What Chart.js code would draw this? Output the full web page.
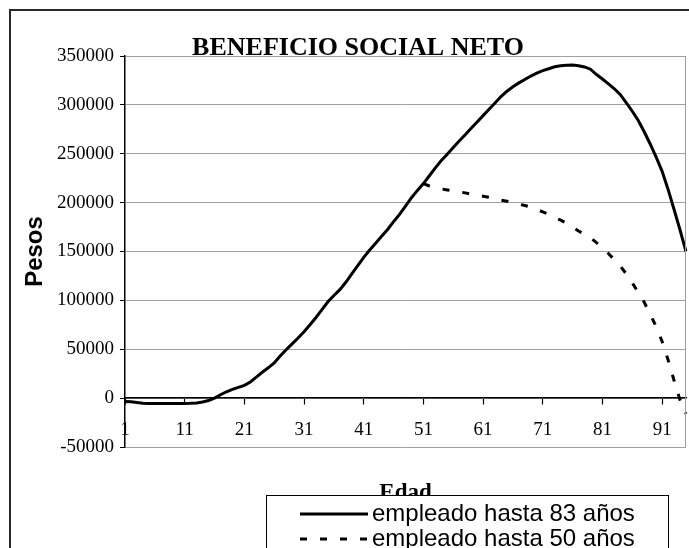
<!DOCTYPE html>
<html>
<head>
<meta charset="utf-8">
<script src="https://cdn.jsdelivr.net/npm/chart.js@4"></script>
<style>
  html, body { margin: 0; padding: 0; background: #ffffff; }
  #wrap { width: 689px; height: 548px; position: relative; overflow: hidden; }
</style>
</head>
<body>
<div id="wrap"><canvas id="chart" width="689" height="548"></canvas></div>
<script>
// Edad (años)
const ages = [
  1, 2, 3, 4, 5, 6, 7, 8, 9, 10, 11, 12, 13, 14, 15, 16, 17, 18, 19, 20,
  21, 22, 23, 24, 25, 26, 27, 28, 29, 30, 31, 32, 33, 34, 35, 36, 37, 38, 39, 40,
  41, 42, 43, 44, 45, 46, 47, 48, 49, 50, 51, 52, 53, 54, 55, 56, 57, 58, 59, 60,
  61, 62, 63, 64, 65, 66, 67, 68, 69, 70, 71, 72, 73, 74, 75, 76, 77, 78, 79, 80,
  81, 82, 83, 84, 85, 86, 87, 88, 89, 90, 91, 92, 93, 94, 95
];

// Beneficio social neto (pesos), empleado hasta 83 años
const empleado83 = [
  -3500, -3800, -4500, -5200, -5500, -5600, -5600, -5600, -5600, -5500,
  -5400, -5300, -5000, -4000, -2500, 0, 3500, 6500, 9000, 11000,
  13000, 16500, 21500, 26500, 31000, 36000, 43000, 49500, 55500, 61500,
  68000, 75000, 82500, 90500, 98500, 105000, 111000, 118500, 127000, 135500,
  144000, 151500, 158500, 165500, 172500, 180500, 188000, 196500, 205000, 212500,
  219500, 227500, 235500, 243000, 249500, 256500, 263000, 269500, 276000, 282500,
  289000, 295500, 302000, 308500, 314000, 318500, 322500, 326000, 329500, 332500,
  335000, 337000, 339000, 340000, 340500, 340800, 340000, 338800, 336500, 331000,
  326500, 321500, 316500, 310500, 302000, 293500, 284000, 272500, 260000, 246500,
  232000, 213500, 193000, 172000, 150000
];

// Beneficio social neto (pesos), empleado hasta 50 años (se separa desde los 51)
const empleado50 = [
  null, null, null, null, null, null, null, null, null, null,
  null, null, null, null, null, null, null, null, null, null,
  null, null, null, null, null, null, null, null, null, null,
  null, null, null, null, null, null, null, null, null, null,
  null, null, null, null, null, null, null, null, null, null,
  219500, 217000, 215500, 214000, 213000, 212000, 211000, 210000, 208500, 207500,
  206500, 205500, 204000, 202500, 201500, 200000, 198500, 197000, 195500, 193000,
  190500, 188000, 185000, 182000, 179000, 175000, 171000, 167500, 164000, 159000,
  154000, 148000, 141500, 135000, 127000, 118000, 108000, 98000, 86000, 73000,
  58000, 39000, 18000, -2000, -16000
];

const yTicks = [-50000, 0, 50000, 100000, 150000, 200000, 250000, 300000, 350000];
const xLabelEvery = 10;

const seriesNames = ['empleado hasta 83 años', 'empleado hasta 50 años'];
const chartTitle = 'BENEFICIO SOCIAL NETO';
const xTitle = 'Edad';
const yTitle = 'Pesos';

const SERIF = '"Liberation Serif", "Times New Roman", serif';
const SANS = '"Liberation Sans", Arial, sans-serif';
const DASH = [7, 13];

// Title, axis titles, plot frame and the legend box are painted on the canvas
const decorations = {
  id: 'decorations',
  beforeDraw(chart) {
    const ctx = chart.ctx;
    ctx.save();
    ctx.fillStyle = '#ffffff';
    ctx.fillRect(0, 0, chart.width, chart.height);
    ctx.restore();
  },
  afterDraw(chart) {
    const ctx = chart.ctx;
    const a = chart.chartArea;
    ctx.save();

    // right edge of the plot frame
    ctx.strokeStyle = '#9c9c9c';
    ctx.lineWidth = 1;
    ctx.beginPath();
    ctx.moveTo(a.right - 0.5, a.top);
    ctx.lineTo(a.right - 0.5, a.bottom);
    ctx.stroke();

    // outer chart frame
    ctx.strokeStyle = '#2a2a2a';
    ctx.lineWidth = 2;
    ctx.strokeRect(10, 10, 720, 600);

    // title
    ctx.fillStyle = '#000000';
    ctx.font = 'bold 26px ' + SERIF;
    ctx.textAlign = 'center';
    ctx.textBaseline = 'alphabetic';
    ctx.fillText(chartTitle, 358, 55);

    // y axis title, centred on the plot height
    ctx.save();
    ctx.translate(35, (a.top + a.bottom) / 2);
    ctx.rotate(-Math.PI / 2);
    ctx.font = 'bold 24px ' + SANS;
    ctx.textAlign = 'center';
    ctx.textBaseline = 'middle';
    ctx.fillText(yTitle, 0, 0);
    ctx.restore();

    // x axis title, centred on the plot width
    ctx.font = 'bold 23px ' + SERIF;
    ctx.textAlign = 'center';
    ctx.textBaseline = 'alphabetic';
    ctx.fillText(xTitle, (a.left + a.right) / 2, 499);

    // legend box
    const lx = 266, ly = 495, lw = 402, lh = 80;
    ctx.fillStyle = '#ffffff';
    ctx.fillRect(lx, ly, lw, lh);
    ctx.strokeStyle = '#000000';
    ctx.lineWidth = 1;
    ctx.strokeRect(lx + 0.5, ly + 0.5, lw, lh);

    const rows = [514, 539];
    chart.data.datasets.forEach((ds, i) => {
      const y = rows[i];
      ctx.strokeStyle = ds.borderColor;
      ctx.lineWidth = ds.borderWidth;
      ctx.setLineDash(ds.borderDash || []);
      ctx.beginPath();
      ctx.moveTo(300, y);
      ctx.lineTo(368, y);
      ctx.stroke();
      ctx.setLineDash([]);
      ctx.fillStyle = '#000000';
      ctx.font = '24px ' + SANS;
      ctx.textAlign = 'left';
      ctx.textBaseline = 'middle';
      ctx.fillText(ds.label, 372, y);
    });

    ctx.restore();
  }
};

new Chart(document.getElementById('chart'), {
  type: 'line',
  data: {
    labels: ages,
    datasets: [
      {
        label: seriesNames[0],
        data: empleado83,
        borderColor: '#000000',
        borderWidth: 3,
        pointRadius: 0,
        tension: 0,
        fill: false
      },
      {
        label: seriesNames[1],
        data: empleado50,
        borderColor: '#000000',
        borderWidth: 3,
        borderDash: DASH,
        pointRadius: 0,
        tension: 0,
        fill: false,
        spanGaps: false
      }
    ]
  },
  options: {
    responsive: false,
    animation: false,
    devicePixelRatio: 1,
    layout: { padding: { left: 0, top: 56, right: 3, bottom: 101 } },
    plugins: {
      legend: { display: false },
      tooltip: { enabled: false },
      title: { display: false }
    },
    scales: {
      x: {
        type: 'category',
        position: { y: 0 },
        offset: false,
        afterFit: (scale) => { scale.paddingLeft = 0; scale.paddingRight = 0; },
        border: { display: true, color: '#000000', width: 1.5 },
        grid: {
          drawOnChartArea: false,
          drawTicks: true,
          tickLength: 6,
          tickColor: (c) => (c.index % xLabelEvery === 0 ? '#000000' : 'rgba(0,0,0,0)'),
          tickWidth: 1.2
        },
        ticks: {
          autoSkip: false,
          maxRotation: 0,
          minRotation: 0,
          padding: 14,
          color: '#000000',
          font: { family: SERIF, size: 19 },
          callback: (value, index) => (index % xLabelEvery === 0 ? String(ages[index]) : '')
        }
      },
      y: {
        type: 'linear',
        position: 'left',
        min: -50000,
        max: 350000,
        afterFit: (scale) => { scale.width = 125; },
        afterBuildTicks: (scale) => { scale.ticks = yTicks.map((v) => ({ value: v })); },
        border: { display: true, color: '#000000', width: 1.5 },
        grid: {
          drawOnChartArea: true,
          color: '#a0a0a0',
          lineWidth: 1,
          drawTicks: true,
          tickLength: 5,
          tickColor: '#000000'
        },
        ticks: {
          padding: 6,
          color: '#000000',
          font: { family: SERIF, size: 19 },
          callback: (v) => String(v)
        }
      }
    }
  },
  plugins: [decorations]
});
</script>
</body>
</html>
